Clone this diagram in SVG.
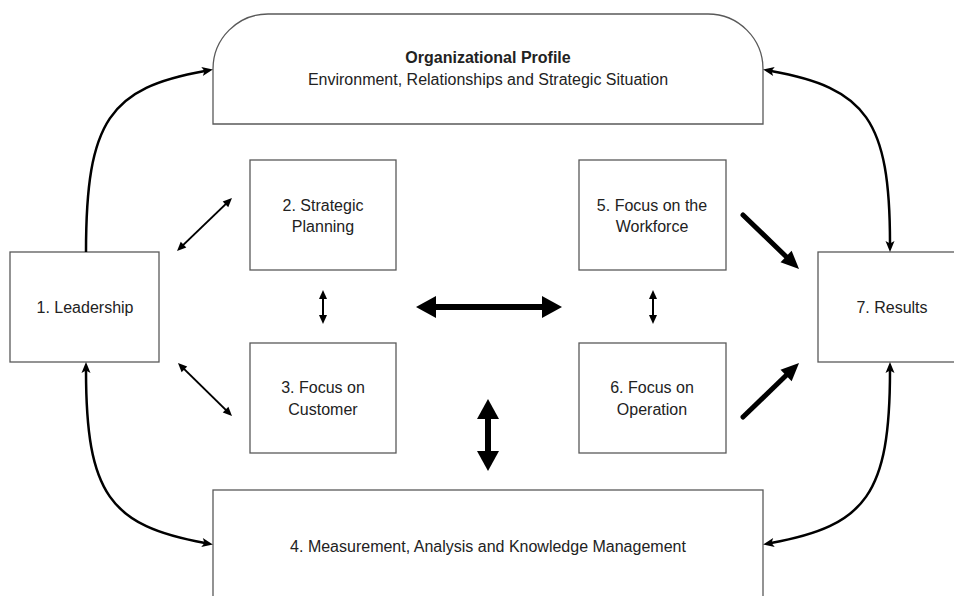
<svg xmlns="http://www.w3.org/2000/svg" width="954" height="596" viewBox="0 0 954 596">
<style>
.box{fill:#fff;stroke:#595959;stroke-width:1.3}
.t{font-family:"Liberation Sans",Arial,sans-serif;font-size:16px;fill:#222;text-anchor:middle}
.b{font-weight:bold}
.curve{fill:none;stroke:#000;stroke-width:2.5}
.thin{fill:none;stroke:#000;stroke-width:2}
.thick{fill:none;stroke:#000;stroke-width:6}
.mid{fill:none;stroke:#000;stroke-width:5;stroke-linecap:round}
</style>
<defs>
<marker id="mc" markerUnits="userSpaceOnUse" markerWidth="14" markerHeight="12" refX="3" refY="4.5" orient="auto-start-reverse" overflow="visible"><path d="M0,0 L11,4.5 L0,9 L2.5,4.5 z" fill="#000"/></marker>
<marker id="mt" markerUnits="userSpaceOnUse" markerWidth="12" markerHeight="10" refX="1" refY="4" orient="auto-start-reverse" overflow="visible"><path d="M0,0 L9,4 L0,8 z" fill="#000"/></marker>
<marker id="mk" markerUnits="userSpaceOnUse" markerWidth="22" markerHeight="24" refX="1" refY="11" orient="auto-start-reverse" overflow="visible"><path d="M0,0 L20,11 L0,22 z" fill="#000"/></marker>
<marker id="mm" markerUnits="userSpaceOnUse" markerWidth="20" markerHeight="18" refX="1" refY="8" orient="auto" overflow="visible"><path d="M0,0 L18,8 L0,16 z" fill="#000"/></marker>
</defs>
<g id="n0">
<path class="box" d="M213,124 V69 A55,55 0 0 1 268,14 H708 A55,55 0 0 1 763,69 V124 Z"/>
<text class="t b" x="488" y="63">Organizational Profile</text>
<text class="t" x="488" y="85">Environment, Relationships and Strategic Situation</text>
</g>
<g id="n1"><rect class="box" x="10" y="252" width="149" height="110"/><text class="t" x="85" y="313">1. Leadership</text></g>
<g id="n2"><rect class="box" x="250" y="160" width="146" height="110"/><text class="t" x="323" y="211">2. Strategic</text><text class="t" x="323" y="232">Planning</text></g>
<g id="n3"><rect class="box" x="250" y="343" width="146" height="110"/><text class="t" x="323" y="393">3. Focus on</text><text class="t" x="323" y="415">Customer</text></g>
<g id="n4"><rect class="box" x="213" y="490" width="550" height="120"/><text class="t" x="488" y="552">4. Measurement, Analysis and Knowledge Management</text></g>
<g id="n5"><rect class="box" x="579" y="160" width="147" height="110"/><text class="t" x="652" y="211">5. Focus on the</text><text class="t" x="652" y="232">Workforce</text></g>
<g id="n6"><rect class="box" x="579" y="343" width="147" height="110"/><text class="t" x="652" y="393">6. Focus on</text><text class="t" x="652" y="415">Operation</text></g>
<g id="n7"><rect class="box" x="818" y="252" width="150" height="110"/><text class="t" x="892" y="313">7. Results</text></g>
<g id="connectors">
<path class="curve" d="M86,252 C86,120 110,88 205,71" marker-end="url(#mc)"/>
<path class="curve" d="M86,370 C86,494 110,526 205,543" marker-start="url(#mc)" marker-end="url(#mc)"/>
<path class="curve" d="M771,71 C866,88 890,120 890,244" marker-start="url(#mc)" marker-end="url(#mc)"/>
<path class="curve" d="M890,370 C890,494 866,526 771,543" marker-start="url(#mc)" marker-end="url(#mc)"/>
<line class="thin" x1="182.8" y1="245.4" x2="226.2" y2="203.6" marker-start="url(#mt)" marker-end="url(#mt)"/>
<line class="thin" x1="183.7" y1="368.6" x2="226.3" y2="410.4" marker-start="url(#mt)" marker-end="url(#mt)"/>
<line class="thin" x1="323" y1="298" x2="323" y2="316" marker-start="url(#mt)" marker-end="url(#mt)"/>
<line class="thin" x1="653" y1="298" x2="653" y2="316" marker-start="url(#mt)" marker-end="url(#mt)"/>
<line class="thick" x1="435" y1="307" x2="543" y2="307" marker-start="url(#mk)" marker-end="url(#mk)"/>
<line class="thick" x1="488" y1="418" x2="488" y2="452" marker-start="url(#mk)" marker-end="url(#mk)"/>
<line class="mid" x1="743" y1="215" x2="786.8" y2="257.2" marker-end="url(#mm)"/>
<line class="mid" x1="743" y1="417" x2="786.8" y2="374.8" marker-end="url(#mm)"/>
</g>
</svg>
